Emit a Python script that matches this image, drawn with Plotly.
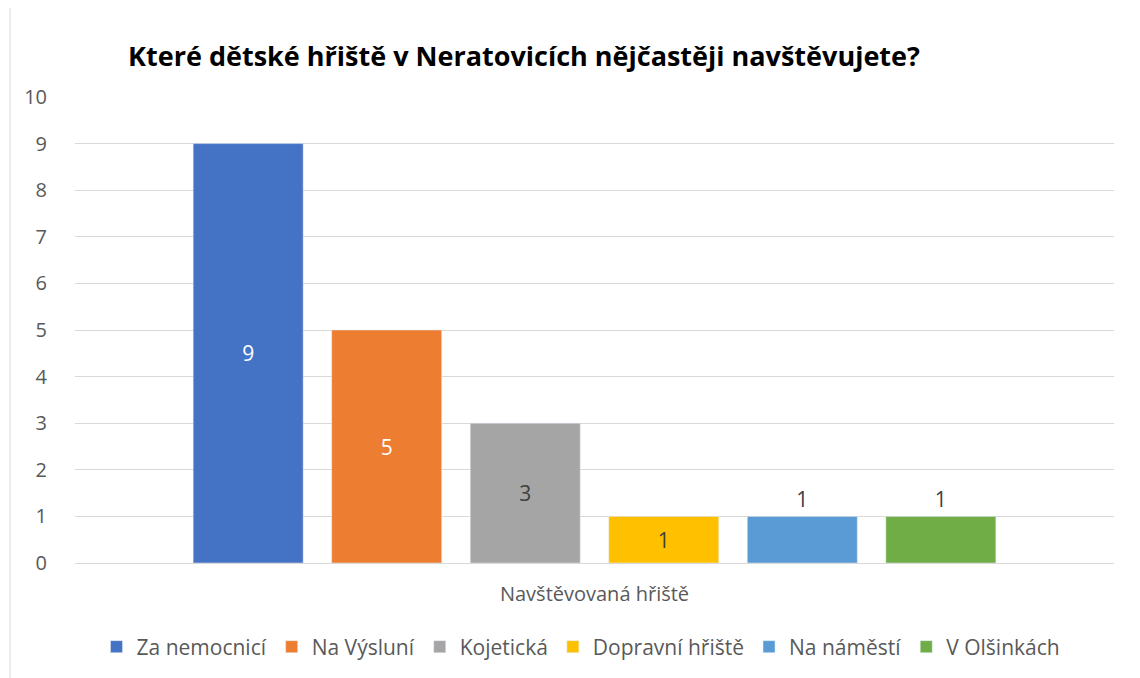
import plotly.graph_objects as go

category = "Navštěvovaná hřiště"
series_names = ["Za nemocnicí", "Na Výsluní", "Kojetická", "Dopravní hřiště", "Na náměstí", "V Olšinkách"]
values = [9, 5, 3, 1, 1, 1]
colors = ["#4472C4", "#ED7D31", "#A5A5A5", "#FFC000", "#5B9BD5", "#70AD47"]
text_colors = ["#FFFFFF", "#FFFFFF", "#404040", "#404040", "#404040", "#404040"]
text_pos = ["inside", "inside", "inside", "inside", "outside", "outside"]
title = "Které dětské hřiště v Neratovicích nějčastěji navštěvujete?"

FONT = "'Open Sans', sans-serif"

# page body has an 8px margin; compensate so the figure lands where the reference is
OFF = 8
W, H = 1140 - OFF, 678 - OFF
L, R, T, B = 75 - OFF, 26, 97 - OFF, 115
PW, PH = W - L - R, H - T - B

fig = go.Figure()
for name, v, c, tc, tp in zip(series_names, values, colors, text_colors, text_pos):
    fig.add_trace(go.Bar(
        name=name, x=[category], y=[v], marker_color=c,
        text=[str(v)], textposition=tp, insidetextanchor="middle",
        textfont=dict(color=tc, size=21, family=FONT),
        outsidetextfont=dict(color="#404040", size=21, family=FONT),
        cliponaxis=False,
    ))

fig.update_layout(
    width=W, height=H,
    margin=dict(l=L, r=R, t=T, b=B, autoexpand=False),
    paper_bgcolor="white", plot_bgcolor="white",
    barmode="group", bargap=0.2, bargroupgap=0.206,
    font=dict(family=FONT, color="#595959", size=20),
    title=dict(text="<b>" + title + "</b>", x=(524 - OFF) / W, xanchor="center",
               y=1 - (57 - OFF) / H, yanchor="middle",
               font=dict(size=27, color="#000000", family=FONT)),
    legend=dict(orientation="h", x=(581 - OFF - L) / PW, xanchor="center",
                y=-(647 - 563) / PH, yanchor="middle",
                font=dict(size=21, color="#595959"), traceorder="normal"),
    xaxis=dict(showgrid=False, showline=False, ticks="",
               tickfont=dict(size=20, color="#595959"), ticklabelstandoff=17),
    yaxis=dict(range=[0, 10], dtick=1, showgrid=True, gridcolor="#D9D9D9",
               gridwidth=1, zeroline=True, zerolinecolor="#D9D9D9", zerolinewidth=1,
               ticks="", tickfont=dict(size=20, color="#595959"), ticklabelstandoff=27),
    shapes=[dict(type="rect", xref="paper", yref="paper",
                 x0=(10 - 75) / PW, x1=1.2, y0=-0.4, y1=(563 - 5) / PH,
                 line=dict(color="#D9D9D9", width=1), fillcolor="rgba(0,0,0,0)", layer="below")],
)

fig.write_html("out.html")
